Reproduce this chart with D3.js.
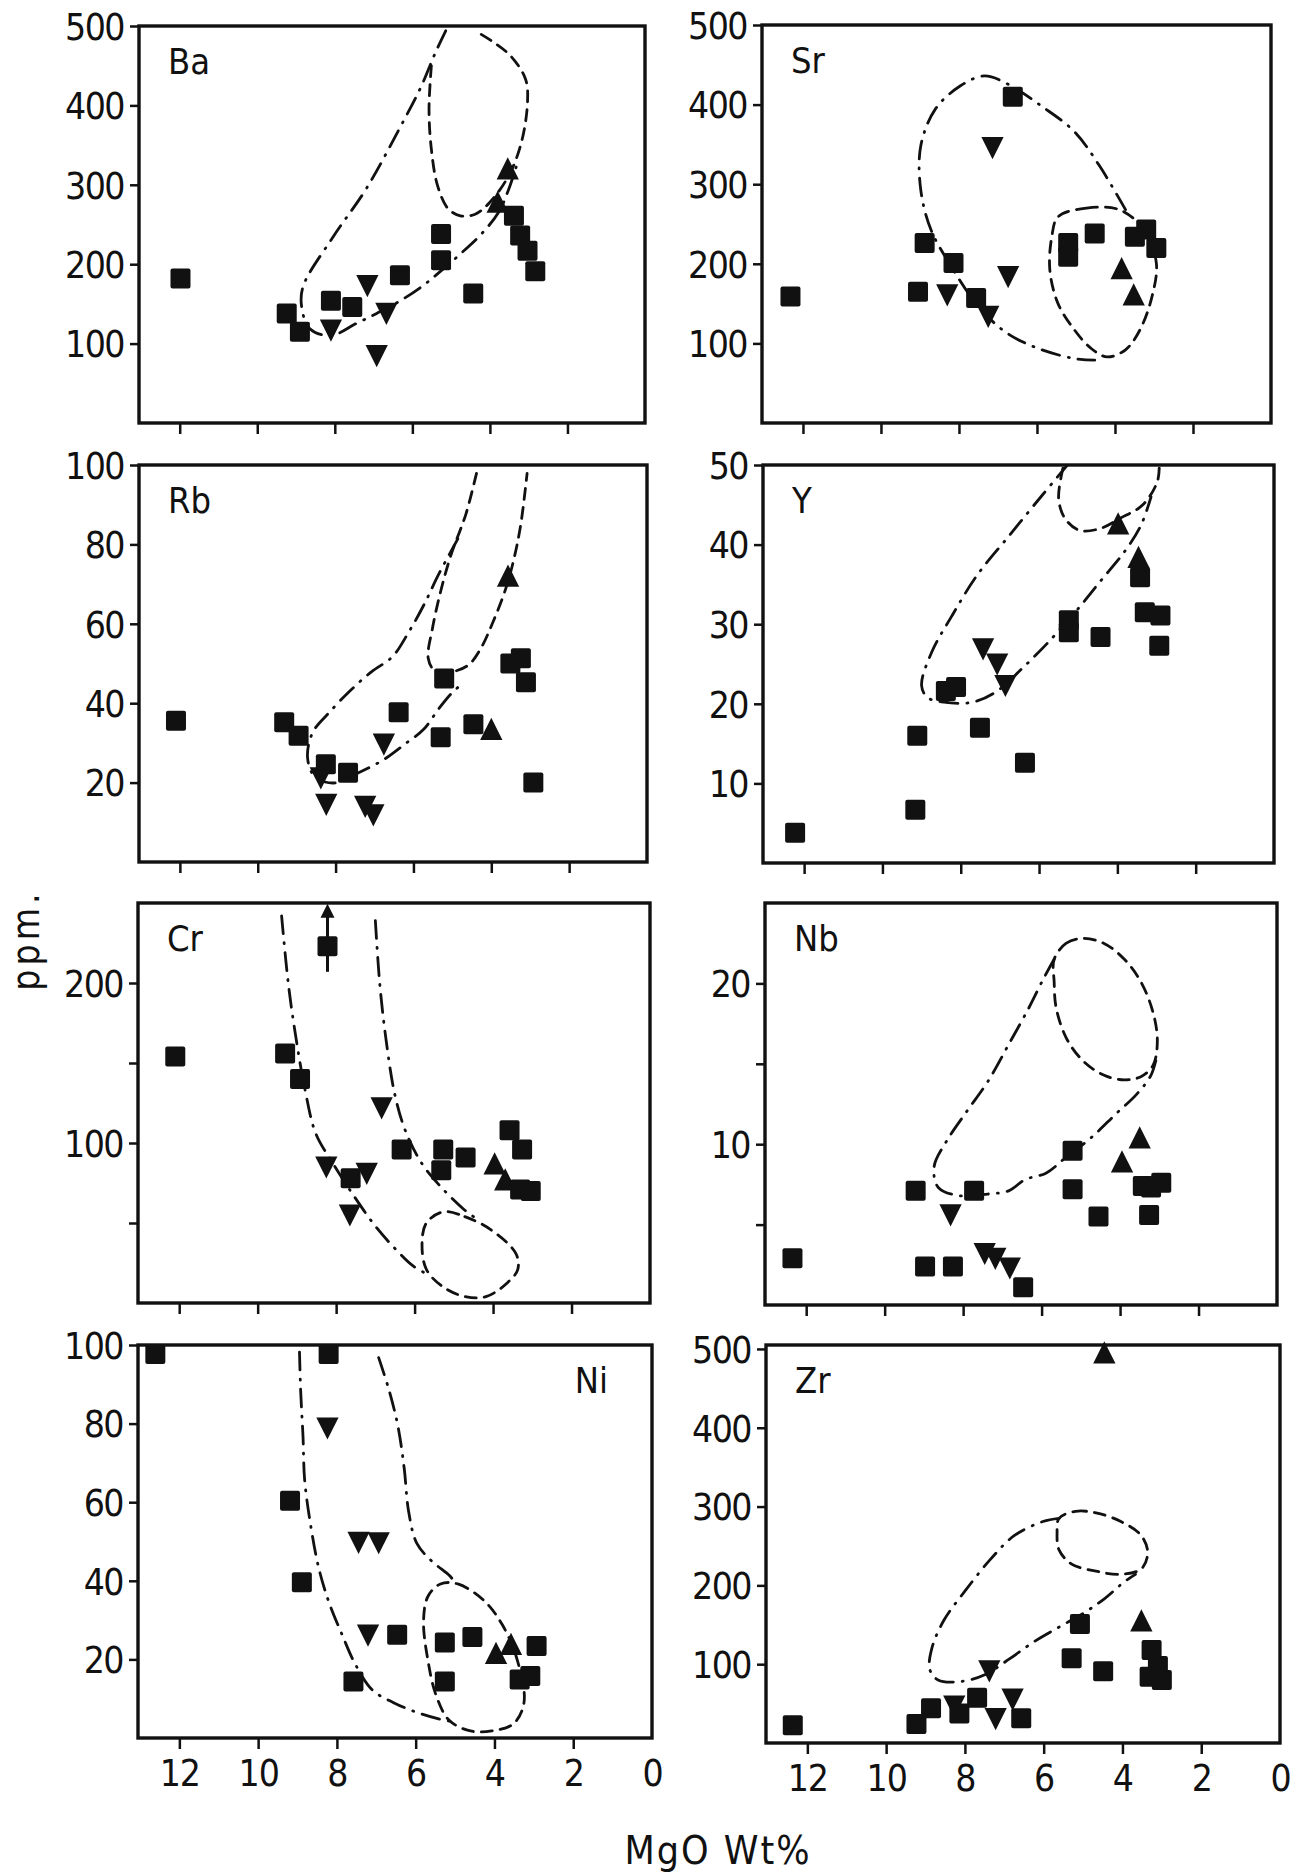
<!DOCTYPE html>
<html>
<head>
<meta charset="utf-8">
<script src="https://cdn.jsdelivr.net/npm/d3@7"></script>
<style>
  body { margin: 0; background: #fff; }
  svg { display: block; }
  text { font-family: "DejaVu Sans Condensed", "DejaVu Sans", sans-serif; font-stretch: condensed; fill: #111; }
</style>
</head>
<body>
<svg width="1291" height="1875"></svg>
<script>
// MgO wt% ticks shared by all panels
const mgoTicks = [12, 10, 8, 6, 4, 2, 0];

// ---- Ba ----
const baSquares = [[11.98,182],[9.24,138],[8.9,115],[8.1,154],[7.55,146],[6.32,186],[5.26,238],[5.26,205],[4.43,163],[3.38,261],[3.22,236],[3.03,217],[2.83,191]];
const baDown = [[8.1,121],[7.16,177],[6.67,142],[6.92,89]];
const baUp = [[3.54,316],[3.8,274]];
const baDashDot = [[5.14,494],[5.41,466],[5.78,423],[6.32,372],[7.19,295],[8.05,234],[8.81,173],[8.86,148],[8.65,119],[8.11,110],[7.46,125],[6.92,138],[6.38,152],[5.78,171],[5.3,190],[4.76,213],[4.22,238],[3.78,265],[3.51,295],[3.3,326]];
const baDashed = [[5.51,450],[5.57,395],[5.51,345],[5.35,299],[5.08,270],[4.76,261],[4.38,263],[4.0,278],[3.51,312],[3.19,353],[3.03,404],[3.08,433],[3.46,462],[3.89,479],[4.38,494]];

// ---- Sr ----
const srSquares = [[12.32,159],[9.05,165],[8.88,226],[8.14,201],[7.56,157],[6.62,410],[5.2,226],[5.2,209],[4.52,238],[3.49,234],[3.2,243],[2.94,220]];
const srDown = [[7.14,350],[6.74,188],[8.3,165],[7.25,138]];
const srUp = [[3.83,190],[3.52,157]];
const srDashDot = [[3.73,268],[4.41,324],[5.04,366],[5.88,398],[6.72,425],[7.35,436],[7.98,423],[8.61,394],[8.98,348],[8.98,293],[8.72,243],[8.19,196],[7.56,150],[6.83,115],[5.99,94],[5.04,81],[4.52,79]];
const srDashed = [[5.46,259],[4.73,270],[3.89,268],[3.26,243],[2.94,201],[3.05,159],[3.36,117],[3.73,92],[4.2,83],[4.62,94],[5.04,117],[5.46,150],[5.67,192],[5.62,234]];

// ---- Rb ----
const rbSquares = [[12.1,35.6],[9.32,35.2],[8.95,31.8],[8.25,24.6],[7.68,22.5],[6.38,37.7],[5.21,46.2],[5.3,31.4],[4.46,34.7],[3.51,50.0],[3.24,51.3],[3.11,45.3],[2.92,20.0]];
const rbDown = [[8.24,15.3],[7.24,14.8],[7.03,12.7],[6.76,30.5],[8.38,22.0]];
const rbUp = [[3.57,71.2],[4.0,32.6]];
const rbDashDot = [[4.86,81.4],[5.35,72.5],[5.73,64.8],[6.11,58.1],[6.54,51.7],[7.08,47.9],[7.62,43.2],[8.16,37.7],[8.59,32.6],[8.72,26.3],[8.54,21.6],[8.05,19.9],[7.41,22.5],[6.76,25.8],[6.22,29.7],[5.73,33.5],[5.35,38.6],[5.03,42.4],[4.7,45.3]];
const rbDashed = [[4.38,97.9],[4.65,87.7],[5.03,77.5],[5.3,68.2],[5.51,58.9],[5.62,51.3],[5.46,48.3],[5.03,47.9],[4.59,49.6],[4.27,53.8],[3.95,60.6],[3.62,69.1],[3.41,76.7],[3.24,85.2],[3.08,97.9]];

// ---- Y ----
const ySquares = [[12.23,3.8],[9.16,6.7],[9.11,16.0],[8.12,22.1],[8.38,21.6],[7.51,17.0],[6.36,12.6],[5.24,30.5],[5.24,29.0],[4.43,28.4],[3.42,35.9],[3.3,31.5],[2.9,31.1],[2.93,27.3]];
const yDown = [[7.43,27.3],[7.07,25.4],[6.86,22.7],[8.35,21.8]];
const yUp = [[3.98,42.2],[3.46,38.0]];
const yDashDot = [[5.24,50.2],[5.92,46.2],[6.75,41.2],[7.59,36.1],[8.22,31.1],[8.74,26.5],[9.0,22.3],[8.85,20.8],[8.43,20.2],[7.7,20.2],[7.07,21.6],[6.44,24.4],[5.81,27.5],[5.08,31.5],[4.45,35.3],[3.82,39.1],[3.4,42.4],[3.14,46.0]];
const yDashed = [[5.39,49.6],[5.5,45.8],[5.34,43.3],[4.97,41.8],[4.45,42.0],[3.93,43.3],[3.35,45.0],[2.98,47.9],[2.93,49.8]];

// ---- Cr ----
const crSquares = [[12.1,154],[9.3,156],[8.92,140],[8.22,223],[7.63,78],[6.33,96],[5.27,96],[5.32,83],[4.7,91],[3.58,108],[3.26,96],[3.31,71],[3.04,70]];
const crDown = [[8.25,87],[7.22,83],[7.65,57],[6.84,124]];
const crUp = [[3.96,85],[3.69,75]];
const crArrow = [8.22, 207, 247];
const crDashDotLeft = [[9.39,242],[9.23,202],[9.07,173],[8.79,133],[8.52,106],[8.1,88],[7.55,67],[7.0,48],[6.46,33],[6.03,23],[5.59,17]];
const crDashDotRight = [[7.0,239],[6.89,200],[6.73,165],[6.51,131],[6.24,108],[5.81,87],[5.27,71],[4.72,58],[4.5,54]];
const crDashed = [[5.27,57],[4.72,54],[4.07,46],[3.42,31],[3.37,21],[3.64,12.5],[4.18,4],[4.72,4],[5.27,10],[5.7,21],[5.81,37.5],[5.7,50]];

// ---- Nb ----
const nbSquares = [[12.35,2.9],[9.21,7.1],[8.97,2.4],[8.26,2.4],[7.72,7.1],[6.47,1.1],[5.21,9.6],[5.21,7.2],[4.55,5.5],[3.26,5.6],[3.42,7.4],[2.95,7.6],[3.21,7.3]];
const nbDown = [[8.32,5.8],[7.45,3.4],[7.18,3.1],[6.81,2.5]];
const nbUp = [[3.5,10.2],[3.95,8.7]];
const nbDashDot = [[5.68,21.5],[5.95,20.3],[6.32,18.5],[6.84,16.2],[7.37,13.9],[7.89,12.1],[8.42,10.2],[8.74,8.6],[8.63,7.3],[8.1,6.8],[7.37,6.9],[6.84,7.1],[6.42,7.8],[5.89,8.2],[5.37,9.2],[4.74,10.4],[4.1,11.9],[3.58,13.1],[3.21,14.3],[3.05,15.6]];
const nbDashed = [[5.68,21.5],[5.37,22.5],[4.95,22.8],[4.42,22.5],[3.89,21.5],[3.47,20.1],[3.16,18.2],[3.05,16.4],[3.16,14.9],[3.47,14.2],[3.89,14.0],[4.42,14.3],[4.95,15.2],[5.37,16.6],[5.63,18.5],[5.68,20.1]];

// ---- Ni ----
const niSquares = [[12.61,97.7],[8.21,97.7],[9.19,60.4],[8.89,39.6],[7.58,14.4],[6.47,26.3],[5.26,24.3],[5.26,14.4],[4.56,25.7],[3.36,14.9],[3.09,15.8],[2.93,23.4]];
const niDown = [[8.24,79.7],[7.45,50.6],[6.94,50.5],[7.21,27.0]];
const niUp = [[3.96,20.7],[3.58,23.0]];
const niDashDotLeft = [[8.95,98.2],[8.92,88.3],[8.86,76.6],[8.82,65.8],[8.68,55.0],[8.46,43.2],[8.19,34.2],[7.86,26.1],[7.54,18.9],[7.1,12.2],[6.56,9.0],[5.91,6.3],[5.26,4.5],[4.93,4.1]];
const niDashDotRight = [[6.94,96.8],[6.67,88.3],[6.45,79.3],[6.29,68.5],[6.18,57.7],[5.97,49.5],[5.59,45.0],[5.15,41.4],[5.04,40.1]];
const niDashed = [[5.37,39.2],[4.93,39.2],[4.28,35.1],[3.8,28.8],[3.42,19.8],[3.25,9.0],[3.52,3.6],[4.07,1.8],[4.61,1.8],[5.15,4.5],[5.48,10.8],[5.69,19.8],[5.8,29.7],[5.69,36.0]];

// ---- Zr ----
const zrSquares = [[12.37,22.6],[9.23,24],[8.86,44],[8.14,37.3],[7.69,57.4],[6.57,31.5],[5.08,151],[5.29,107.5],[4.49,91],[3.26,118],[3.1,97.7],[3.0,80],[3.31,84]];
const zrDown = [[8.27,51],[7.38,95.5],[7.22,35],[6.79,59.7]];
const zrUp = [[4.46,491],[3.52,151]];
const zrDashDot = [[5.61,285],[6.02,281],[6.75,263],[7.37,232],[8.01,192],[8.53,156],[8.84,120],[8.89,93],[8.68,80],[8.11,78],[7.48,87],[6.86,107],[6.23,129],[5.61,147],[4.98,165],[4.46,183],[3.94,205],[3.67,214]];
const zrDashed = [[5.61,285],[5.19,294],[4.67,292],[4.04,281],[3.52,263],[3.36,241],[3.52,221],[4.04,214],[4.67,218],[5.29,227],[5.61,245],[5.66,267]];

const panels = [
  {name:'Ba', box:[139,645,26,423], yMax:500, yTicks:[100,200,300,400,500], yLabels:[100,200,300,400,500], sq:baSquares, dn:baDown, up:baUp, dashDot:[baDashDot], dashed:baDashed, closed:false},
  {name:'Sr', box:[762,1271,25,423], yMax:500, yTicks:[100,200,300,400,500], yLabels:[100,200,300,400,500], sq:srSquares, dn:srDown, up:srUp, dashDot:[srDashDot], dashed:srDashed, closed:true},
  {name:'Rb', box:[139,647,465,862], yMax:100, yTicks:[20,40,60,80,100], yLabels:[20,40,60,80,100], sq:rbSquares, dn:rbDown, up:rbUp, dashDot:[rbDashDot], dashed:rbDashed, closed:false},
  {name:'Y', box:[763,1274,465,863], yMax:50, yTicks:[10,20,30,40,50], yLabels:[10,20,30,40,50], sq:ySquares, dn:yDown, up:yUp, dashDot:[yDashDot], dashed:yDashed, closed:false},
  {name:'Cr', box:[138,650,903,1303], yMax:250, yTicks:[50,100,150,200], yLabels:[100,200], sq:crSquares, dn:crDown, up:crUp, dashDot:[crDashDotLeft, crDashDotRight], dashed:crDashed, closed:true, arrow:crArrow},
  {name:'Nb', box:[765,1277,903,1305], yMax:25, yTicks:[5,10,15,20], yLabels:[10,20], sq:nbSquares, dn:nbDown, up:nbUp, dashDot:[nbDashDot], dashed:nbDashed, closed:true},
  {name:'Ni', box:[138,652,1345,1738], yMax:100, yTicks:[20,40,60,80,100], yLabels:[20,40,60,80,100], sq:niSquares, dn:niDown, up:niUp, dashDot:[niDashDotLeft, niDashDotRight], dashed:niDashed, closed:true, titleRight:true, xLabels:true},
  {name:'Zr', box:[766,1280,1345,1743], yMax:505, yTicks:[100,200,300,400,500], yLabels:[100,200,300,400,500], sq:zrSquares, dn:zrDown, up:zrUp, dashDot:[zrDashDot], dashed:zrDashed, closed:true, xLabels:true}
];

const svg = d3.select('svg');
const ink = '#111';

panels.forEach((p, i) => {
  const [x0, x1, y0, y1] = p.box;
  const x = d3.scaleLinear().domain([13.05, 0]).range([x0, x1]);
  const y = d3.scaleLinear().domain([0, p.yMax]).range([y1, y0]);
  const g = svg.append('g');

  g.append('clipPath').attr('id', 'clip' + i)
    .append('rect').attr('x', x0).attr('y', y0).attr('width', x1 - x0).attr('height', y1 - y0);

  // y axis ticks
  const ya = g.append('g').attr('transform', `translate(${x0},0)`)
    .call(d3.axisLeft(y).tickValues(p.yTicks).tickSize(9).tickPadding(6)
      .tickFormat(d => p.yLabels.includes(d) ? d : ''));
  ya.select('.domain').remove();
  ya.selectAll('line').attr('stroke', ink).attr('stroke-width', 2.5);
  ya.selectAll('text').style('font-size', '37px').style('letter-spacing', '-1.5px').attr('dy', '0.36em');

  // x axis ticks (labels only on the bottom row)
  const xa = g.append('g').attr('transform', `translate(0,${y1})`)
    .call(d3.axisBottom(x).tickValues(mgoTicks).tickSize(11).tickPadding(11)
      .tickFormat(d => p.xLabels ? d : ''));
  xa.select('.domain').remove();
  xa.selectAll('line').attr('stroke', ink).attr('stroke-width', 2.5)
    .attr('opacity', d => d === 0 ? 0 : 1);
  xa.selectAll('text').style('font-size', '37px').style('letter-spacing', '-1px');

  // envelopes
  const line = d3.line().x(d => x(d[0])).y(d => y(d[1])).curve(d3.curveCatmullRom.alpha(0.5));
  const closedLine = d3.line().x(d => x(d[0])).y(d => y(d[1])).curve(d3.curveCatmullRomClosed.alpha(0.5));
  const env = g.append('g').attr('clip-path', `url(#clip${i})`)
    .attr('fill', 'none').attr('stroke', ink).attr('stroke-width', 2.8).attr('stroke-linecap', 'round');
  p.dashDot.forEach(seg => {
    env.append('path').attr('d', line(seg)).attr('stroke-dasharray', '18 9 1 9');
  });
  env.append('path').attr('d', p.closed ? closedLine(p.dashed) : line(p.dashed))
    .attr('stroke-dasharray', '11 8');

  // markers
  const s = 20;
  g.selectAll('.sq').data(p.sq).enter().append('rect')
    .attr('x', d => x(d[0]) - s / 2).attr('y', d => y(d[1]) - s / 2)
    .attr('width', s).attr('height', s).attr('rx', 2).attr('fill', ink);
  const tri = d3.symbol().type(d3.symbolTriangle).size(215);
  g.selectAll('.dn').data(p.dn).enter().append('path')
    .attr('d', tri).attr('fill', ink)
    .attr('transform', d => `translate(${x(d[0])},${y(d[1])}) rotate(180) scale(1,1.15)`);
  g.selectAll('.up').data(p.up).enter().append('path')
    .attr('d', tri).attr('fill', ink)
    .attr('transform', d => `translate(${x(d[0])},${y(d[1])}) scale(1,1.15)`);

  // off-scale arrow (Cr)
  if (p.arrow) {
    const [ax, a0, a1] = p.arrow;
    g.append('line').attr('x1', x(ax)).attr('x2', x(ax)).attr('y1', y(a0)).attr('y2', y(a1))
      .attr('stroke', ink).attr('stroke-width', 3);
    g.append('path').attr('fill', ink)
      .attr('d', `M${x(ax)},${y(a1) - 4} l-7,14 l14,0 z`);
  }

  // frame
  g.append('rect').attr('x', x0).attr('y', y0).attr('width', x1 - x0).attr('height', y1 - y0)
    .attr('fill', 'none').attr('stroke', ink).attr('stroke-width', 3.4);

  // element name
  g.append('text')
    .attr('x', p.titleRight ? x1 - 44 : x0 + 29)
    .attr('y', y0 + 48)
    .attr('text-anchor', p.titleRight ? 'end' : 'start')
    .style('font-size', '36px')
    .text(p.name);
});

svg.append('text')
  .attr('transform', 'translate(39,940) rotate(-90)')
  .attr('text-anchor', 'middle').style('font-size', '37px').style('letter-spacing', '4px')
  .text('ppm.');

svg.append('text')
  .attr('x', 718).attr('y', 1864)
  .attr('text-anchor', 'middle').style('font-size', '39px').style('letter-spacing', '2px')
  .text('MgO Wt%');
</script>
</body>
</html>
